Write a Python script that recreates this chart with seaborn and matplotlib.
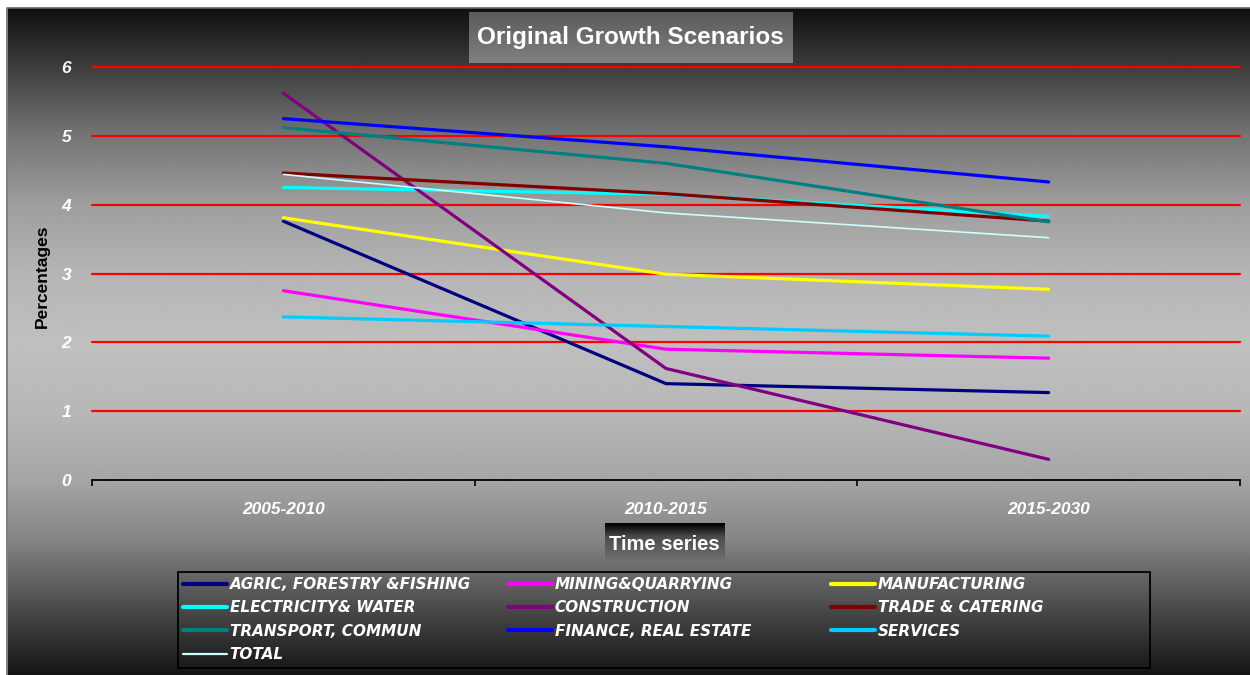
import numpy as np
import pandas as pd
import matplotlib
matplotlib.use("Agg")
import matplotlib.pyplot as plt
import seaborn as sns
from matplotlib.lines import Line2D
from matplotlib.patches import Rectangle

# ---------------- data ----------------
periods = ["2005-2010", "2010-2015", "2015-2030"]
series_names = ["AGRIC, FORESTRY &FISHING", "MINING&QUARRYING", "MANUFACTURING",
                "ELECTRICITY& WATER", "CONSTRUCTION", "TRADE & CATERING",
                "TRANSPORT, COMMUN", "FINANCE, REAL ESTATE", "SERVICES", "TOTAL"]
agric = [3.76, 1.40, 1.27]
mining = [2.75, 1.90, 1.77]
manufacturing = [3.81, 2.99, 2.77]
electricity = [4.25, 4.15, 3.83]
construction = [5.62, 1.62, 0.30]
trade = [4.46, 4.16, 3.76]
transport = [5.12, 4.60, 3.75]
finance = [5.25, 4.84, 4.33]
services = [2.37, 2.23, 2.09]
total = [4.44, 3.88, 3.52]
y_ticks = [0, 1, 2, 3, 4, 5, 6]

values = [agric, mining, manufacturing, electricity, construction, trade,
          transport, finance, services, total]
colors = ["#000080", "#FF00FF", "#FFFF00", "#00FFFF", "#800080", "#800000",
          "#008080", "#0000FF", "#00CCFF", "#CCFFFF"]
widths = [2.3] * 9 + [1.2]

df = pd.DataFrame({
    "period": [p for _ in series_names for p in periods],
    "series": [s for s in series_names for _ in periods],
    "value": [v for vals in values for v in vals],
})

sns.set_theme(style="white")
plt.rcParams["font.family"] = ["Liberation Sans", "DejaVu Sans"]

W, H = 1250, 675
fig = plt.figure(figsize=(12.5, 6.75), dpi=100, facecolor="white")

def fx(px):
    return px / W

def fy(py):
    return 1 - py / H

# ---------------- background gradient ----------------
bg = fig.add_axes([fx(8), 0, 1 - fx(8), fy(8)], zorder=-10)
rows = np.arange(8, 676)
anchor_y = [8, 67, 136, 205, 273, 342, 411, 480, 540, 600, 640, 675]
anchor_v = [0.06, 0.24, 0.46, 0.62, 0.71, 0.75, 0.72, 0.65, 0.52, 0.32, 0.19, 0.08]
grad = np.interp(rows, anchor_y, anchor_v)[:, None]
bg.imshow(np.repeat(grad, 2, axis=1), cmap="gray", vmin=0, vmax=1,
          aspect="auto", interpolation="bilinear", extent=[0, 1, 0, 1])
bg.set_axis_off()

# border lines of the chart area
fig.add_artist(Line2D([fx(7), fx(7), 1], [0, fy(8), fy(8)],
                      transform=fig.transFigure, color="#666666", lw=1.2))

# ---------------- main axes ----------------
ax = fig.add_axes([fx(92), fy(480), fx(1240) - fx(92), fy(67) - fy(480)])
ax.set_facecolor("none")

for name, c, lw in zip(series_names, colors, widths):
    sub = df[df["series"] == name]
    sns.lineplot(data=sub, x="period", y="value", ax=ax, color=c,
                 linewidth=lw, sort=False, legend=False)

ax.set_xlim(-0.5, 2.5)
ax.set_ylim(0, 6)
ax.set_yticks(y_ticks)
ax.set_xticks(range(len(periods)))
ax.set_xticklabels(periods)
ax.set_xticks([-0.5, 0.5, 1.5, 2.5], minor=True)

tick_font = dict(family="Liberation Sans", weight="bold", style="italic", size=12.5)
for lab in ax.get_yticklabels() + ax.get_xticklabels():
    lab.set_fontproperties(matplotlib.font_manager.FontProperties(**tick_font))
    lab.set_color("white")

ax.tick_params(axis="y", which="major", length=0, pad=15)
ax.tick_params(axis="x", which="major", length=0, pad=16)
ax.tick_params(axis="x", which="minor", length=4, width=1.2, color="black",
               direction="out", bottom=True)

ax.yaxis.grid(True, color="#FF0000", lw=1.6)
ax.xaxis.grid(False)
for gl in ax.get_ygridlines():
    gl.set_clip_on(False)
ax.get_ygridlines()[0].set_visible(False)
for s in ["top", "right", "left"]:
    ax.spines[s].set_visible(False)
ax.spines["bottom"].set_color("black")
ax.spines["bottom"].set_linewidth(1.3)
ax.spines["bottom"].set_zorder(5)

ax.set_xlabel("")
ax.set_ylabel("")
fig.text(fx(42), fy(276), "Percentages", rotation=90, ha="center", va="center",
         color="black", fontsize=12.5, fontweight="bold", family="Liberation Sans")

# ---------------- title box ----------------
tb = fig.add_axes([fx(469), fy(63), fx(792) - fx(469), fy(12) - fy(63)])
tgrad = np.linspace(0.36, 0.5, 50)[:, None]
tb.imshow(np.repeat(tgrad, 2, axis=1), cmap="gray", vmin=0, vmax=1,
          aspect="auto", extent=[0, 1, 0, 1], origin="upper")
tb.set_axis_off()
tb.text(0.5, 0.5, "Original Growth Scenarios", transform=tb.transAxes,
        ha="center", va="center", color="white", fontsize=17.5,
        fontweight="bold", family="Liberation Sans")

# ---------------- x-axis title box ----------------
xb = fig.add_axes([fx(605), fy(563), fx(724) - fx(605), fy(523) - fy(563)])
xgrad = np.interp(np.linspace(0, 1, 50), [0, 0.35, 1], [0.0, 0.3, 0.45])[:, None]
xb.imshow(np.repeat(xgrad, 2, axis=1), cmap="gray", vmin=0, vmax=1,
          aspect="auto", extent=[0, 1, 0, 1], origin="upper")
xb.set_axis_off()
xb.text(0.5, 0.45, "Time series", transform=xb.transAxes, ha="center",
        va="center", color="white", fontsize=14.5, fontweight="bold",
        family="Liberation Sans")

# ---------------- legend ----------------
fig.add_artist(Rectangle((fx(178), fy(668)), fx(1150) - fx(178), fy(572) - fy(668),
                         transform=fig.transFigure, fill=False, ec="black", lw=1.3))
handles = [Line2D([], [], color=c, lw=(3.0 if lw > 2 else 1.6)) for c, lw in zip(colors, widths)]
col_members = [[0, 3, 6, 9], [1, 4, 7], [2, 5, 8]]
col_x = [183, 508, 831]
leg_prop = dict(family="DejaVu Sans", weight="bold", style="italic", size=11)
for members, x0 in zip(col_members, col_x):
    leg = fig.legend([handles[i] for i in members], [series_names[i] for i in members],
                     loc="upper left", bbox_to_anchor=(fx(x0), fy(577)),
                     bbox_transform=fig.transFigure, frameon=False, ncol=1,
                     borderpad=0, borderaxespad=0, handlelength=2.85,
                     handletextpad=0.2, labelspacing=0.55, prop=leg_prop)
    for t in leg.get_texts():
        t.set_color("white")

fig.savefig("out.png", dpi=100, facecolor="white")
